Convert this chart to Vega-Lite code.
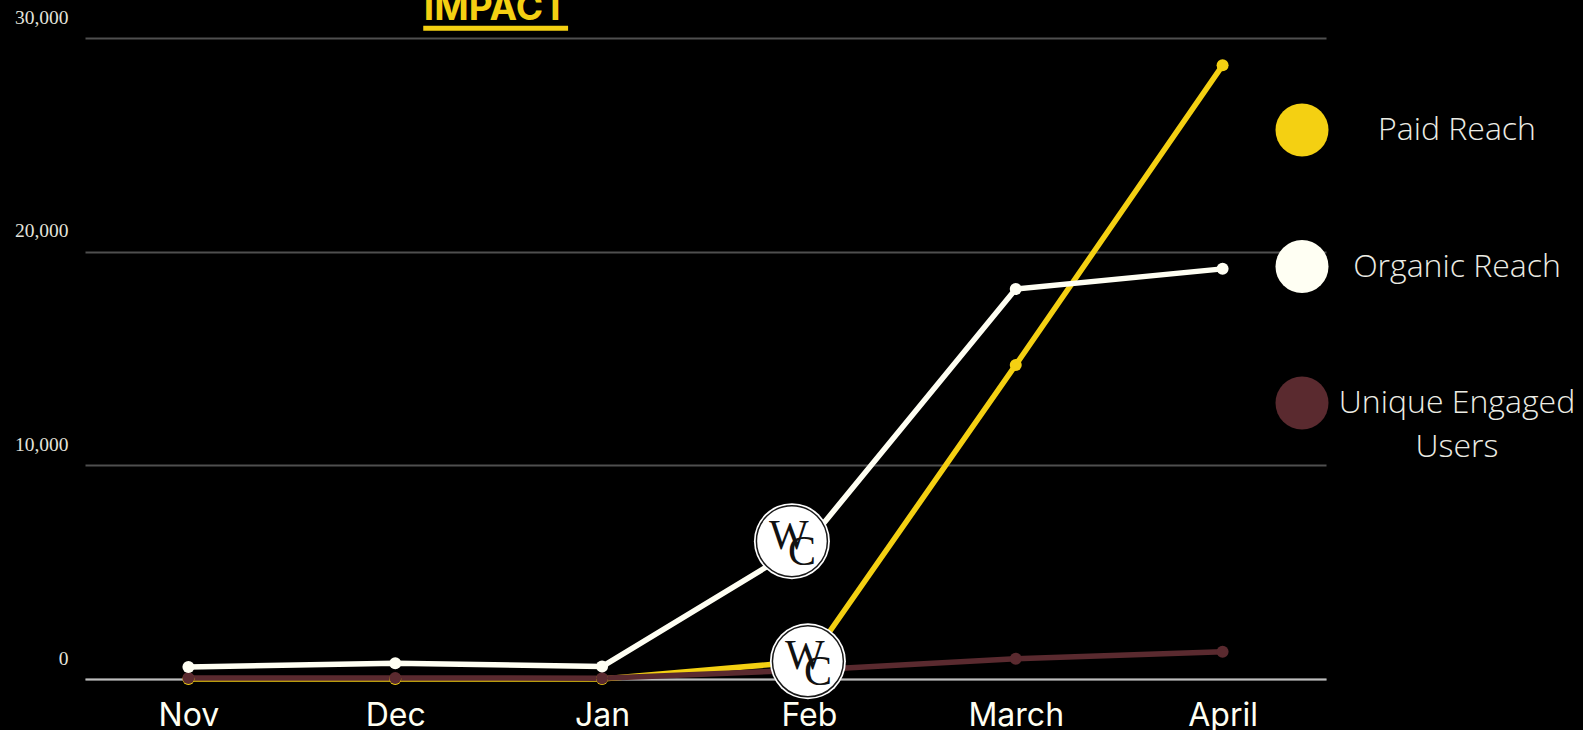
{
  "$schema": "https://vega.github.io/schema/vega-lite/v6.json",
  "width": 1241,
  "height": 641,
  "autosize": {"type": "none"},
  "padding": {"left": 85, "top": 38, "right": 257, "bottom": 51},
  "background": "#000000",
  "config": {"view": {"stroke": null}, "style": {"guide-label": {"lineHeight": 44}}},
  "datasets": {
    "main": [
      {"month": "Nov", "series": "Paid Reach", "value": 0},
      {"month": "Dec", "series": "Paid Reach", "value": 0},
      {"month": "Jan", "series": "Paid Reach", "value": 0},
      {"month": "Feb", "series": "Paid Reach", "value": 830},
      {"month": "March", "series": "Paid Reach", "value": 14700},
      {"month": "April", "series": "Paid Reach", "value": 28720},
      {"month": "Nov", "series": "Unique Engaged Users", "value": 50},
      {"month": "Dec", "series": "Unique Engaged Users", "value": 50},
      {"month": "Jan", "series": "Unique Engaged Users", "value": 40},
      {"month": "Feb", "series": "Unique Engaged Users", "value": 420},
      {"month": "March", "series": "Unique Engaged Users", "value": 950},
      {"month": "April", "series": "Unique Engaged Users", "value": 1280},
      {"month": "Nov", "series": "Organic Reach", "value": 560},
      {"month": "Dec", "series": "Organic Reach", "value": 740},
      {"month": "Jan", "series": "Organic Reach", "value": 580},
      {"month": "Feb", "series": "Organic Reach", "value": 6450},
      {"month": "March", "series": "Organic Reach", "value": 18250},
      {"month": "April", "series": "Organic Reach", "value": 19195}
    ],
    "heading": [{"label": "IMPACT", "month": "Dec", "value": 30857}],
    "logo1": [{"month": "Feb", "value": 6450}],
    "logo2": [{"month": "Feb", "value": 830}]
  },
  "encoding": {
    "x": {
      "field": "month",
      "type": "ordinal",
      "sort": ["Nov", "Dec", "Jan", "Feb", "March", "April"],
      "scale": {"type": "point", "padding": 0.5},
      "axis": {
        "title": null,
        "ticks": false,
        "grid": false,
        "domainColor": "#bdbdbd",
        "domainWidth": 2,
        "labelFont": "Inter",
        "labelFontSize": 32,
        "labelColor": "#fffff2",
        "labelPadding": 21,
        "labelAngle": 0
      }
    },
    "y": {
      "field": "value",
      "type": "quantitative",
      "scale": {"domain": [0, 30000], "nice": false},
      "axis": {
        "title": null,
        "values": [0, 10000, 20000, 30000],
        "format": ",.0f",
        "domain": false,
        "ticks": false,
        "grid": true,
        "gridColor": "#4f4f4f",
        "gridWidth": 2,
        "labelFont": "Liberation Serif",
        "labelFontSize": 19.5,
        "labelColor": "#e4e4dc",
        "labelPadding": 17,
        "labelOffset": -21,
        "labelBaseline": "middle"
      }
    }
  },
  "layer": [
    {
      "data": {"name": "main"},
      "mark": {"type": "line", "strokeWidth": 5.5, "strokeCap": "round", "strokeJoin": "round"},
      "encoding": {
        "color": {
          "field": "series",
          "type": "nominal",
          "scale": {
            "domain": ["Paid Reach", "Organic Reach", "Unique Engaged Users"],
            "range": ["#f4d012", "#fffff3", "#5a2a2f"]
          }
        }
      }
    },
    {
      "data": {"name": "main"},
      "mark": {"type": "point", "filled": true, "opacity": 1, "size": 144, "shape": "circle"},
      "encoding": {
        "color": {
          "field": "series",
          "type": "nominal",
          "scale": {
            "domain": ["Paid Reach", "Organic Reach", "Unique Engaged Users"],
            "range": ["#f4d012", "#fffff3", "#5a2a2f"]
          },
          "legend": {
            "title": null,
            "orient": "none",
            "legendX": 1190.5,
            "legendY": 65.5,
            "padding": 0,
            "symbolType": "circle",
            "symbolSize": 2809,
            "symbolStrokeWidth": 0,
            "symbolOpacity": 1,
            "rowPadding": 83.5,
            "labelFont": "Open Sans",
            "labelFontWeight": 300,
            "labelFontSize": 32,
            "labelColor": "#ecece4",
            "labelAlign": "center",
            "labelOffset": 128.5,
            "labelLimit": 400,
            "labelExpr": "datum.label == 'Unique Engaged Users' ? ['Unique Engaged', 'Users'] : datum.label"
          }
        }
      }
    },
    {
      "data": {"name": "logo1"},
      "layer": [
        {"mark": {"type": "point", "shape": "circle", "filled": true, "fill": "#ffffff", "opacity": 1, "size": 5776, "xOffset": -17}},
        {"mark": {"type": "point", "shape": "circle", "filled": false, "stroke": "#1a1a1a", "strokeWidth": 1.5, "opacity": 1, "size": 5041, "xOffset": -17}},
        {"mark": {"type": "text", "text": "W", "font": "Liberation Serif", "fontSize": 42, "fill": "#111111", "align": "center", "baseline": "middle", "xOffset": -20, "yOffset": -5}},
        {"mark": {"type": "text", "text": "C", "font": "Liberation Serif", "fontSize": 42, "fill": "#111111", "align": "center", "baseline": "middle", "xOffset": -7, "yOffset": 11}}
      ]
    },
    {
      "data": {"name": "logo2"},
      "layer": [
        {"mark": {"type": "point", "shape": "circle", "filled": true, "fill": "#ffffff", "opacity": 1, "size": 5776, "xOffset": -1}},
        {"mark": {"type": "point", "shape": "circle", "filled": false, "stroke": "#1a1a1a", "strokeWidth": 1.5, "opacity": 1, "size": 5041, "xOffset": -1}},
        {"mark": {"type": "text", "text": "W", "font": "Liberation Serif", "fontSize": 42, "fill": "#111111", "align": "center", "baseline": "middle", "xOffset": -4, "yOffset": -5}},
        {"mark": {"type": "text", "text": "C", "font": "Liberation Serif", "fontSize": 42, "fill": "#111111", "align": "center", "baseline": "middle", "xOffset": 9, "yOffset": 11}}
      ]
    },
    {
      "data": {"name": "heading"},
      "layer": [
        {
          "mark": {"type": "text", "font": "Inter", "fontWeight": "bold", "fontSize": 37, "fill": "#f4d012", "align": "center", "baseline": "alphabetic", "xOffset": 100.5},
          "encoding": {
            "text": {"field": "label"}
          }
        },
        {
          "mark": {"type": "rule", "stroke": "#f4d012", "strokeWidth": 5, "xOffset": 28, "x2Offset": -34},
          "encoding": {
            "x2": {"datum": "Jan"},
            "y": {"datum": 30459}
          }
        }
      ]
    }
  ]
}
